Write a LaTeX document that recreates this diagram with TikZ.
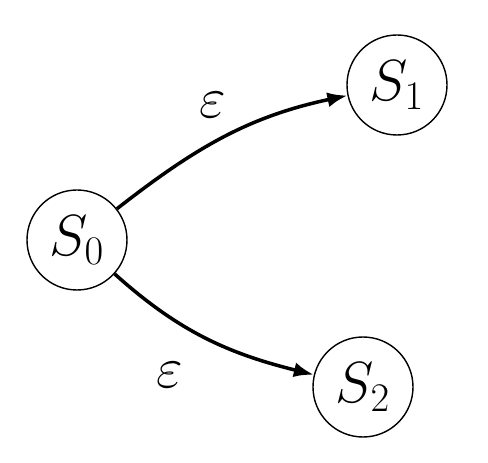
\documentclass[tikz,border=0pt]{standalone}
\usepackage{fix-cm}
\usepackage{amsmath,amssymb}
\usetikzlibrary{arrows.meta}

\begin{document}
\begin{tikzpicture}[
	state/.style={draw,circle,line width=0.8pt,minimum size=2cm,inner sep=0pt,
		font=\fontsize{33}{36}\selectfont},
	trans/.style={line width=2pt,-{Latex[length=0.4cm,width=0.3cm]}},
	lbl/.style={font=\fontsize{33}{36}\selectfont}
]
	% frame
	\useasboundingbox (0,0) rectangle (9.76,9.24);

	% states
	\node[state] (S0) at (1.54,4.44) {$S_0$};
	\node[state] (S1) at (7.94,7.54) {$S_1$};
	\node[state] (S2) at (7.26,1.50) {$S_2$};

	% transitions
	\draw[trans] (S0) to[out=38,in=192] (S1);
	\draw[trans] (S0) to[out=-42,in=166] (S2);

	% labels
	\node[lbl] (e1) at (4.26,7.14) {$\varepsilon$};
	\node[lbl] (e2) at (3.40,1.74) {$\varepsilon$};

\end{tikzpicture}
\end{document}
